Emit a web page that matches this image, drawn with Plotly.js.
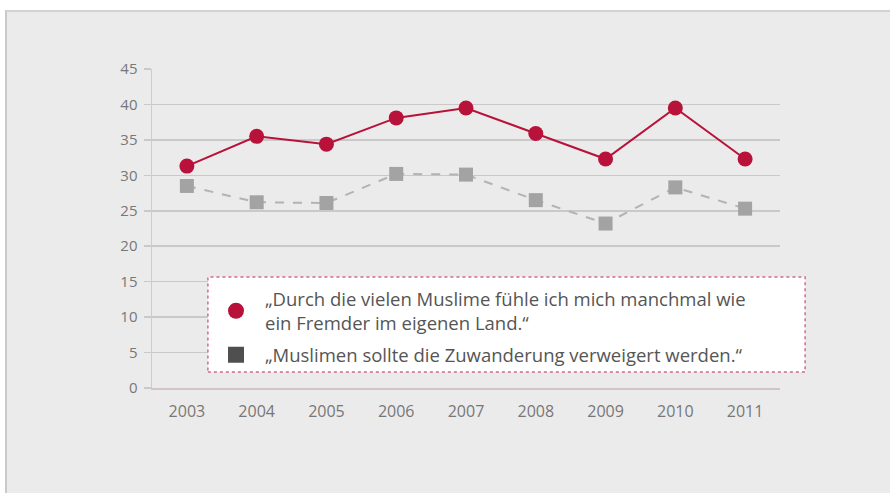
<!DOCTYPE html>
<html><head><meta charset="utf-8">
<script src="https://cdn.plot.ly/plotly-3.0.1.min.js"></script>
<style>
html,body{margin:0;padding:0;background:#fff;}
#wrap{position:absolute;left:5px;top:10px;width:883px;height:481px;border-left:2px solid #c9c9c9;border-top:2px solid #d2d2d2;background:#ebebeb;}
#chart{width:883px;height:481px;}
</style></head>
<body><div id="wrap"><div id="chart"></div></div>
<script>
const years = ['2003','2004','2005','2006','2007','2008','2009','2010','2011'];
const fremder = [31.3, 35.5, 34.4, 38.1, 39.5, 35.9, 32.3, 39.5, 32.3];
const zuwanderung = [28.5, 26.2, 26.1, 30.2, 30.1, 26.5, 23.2, 28.3, 25.3];
const name1 = '„Durch die vielen Muslime fühle ich mich manchmal wie<br>ein Fremder im eigenen Land.“';
const name2 = '„Muslimen sollte die Zuwanderung verweigert werden.“';
const yTicks = [0,5,10,15,20,25,30,35,40,45];

const red = '#b8123a';
const traces = [
  {x: years, y: zuwanderung, type:'scatter', mode:'lines+markers', showlegend:false,
   line:{color:'#b3b3b3', width:2, dash:'dash'},
   marker:{symbol:'square', size:14, color:'#a3a3a3'}},
  {x: years, y: fremder, type:'scatter', mode:'lines+markers', showlegend:false,
   line:{color:red, width:2},
   marker:{symbol:'circle', size:15, color:red}},
  {x:[null], y:[null], type:'scatter', mode:'markers', name:name1, legendgroup:'a',
   marker:{symbol:'circle', size:16, color:red}},
  {x:[null], y:[null], type:'scatter', mode:'markers', name:name2, legendgroup:'b',
   marker:{symbol:'square', size:16, color:'#4f4f4f'}}
];

const layout = {
  width:883, height:481,
  margin:{l:145, r:110, t:57, b:105},
  paper_bgcolor:'#ebebeb', plot_bgcolor:'#ebebeb',
  font:{family:'Open Sans, sans-serif', color:'#6f6f6f', size:15},
  xaxis:{type:'category', range:[-0.5, 8.5], showgrid:false, zeroline:false,
    showline:true, linecolor:'#d2c4c8', linewidth:1.5, ticks:'', ticklabelstandoff:8,
    tickfont:{size:16, color:'#777'}},
  yaxis:{range:[0,45], tickvals:yTicks, showgrid:true, gridcolor:'#c9c9c9', gridwidth:1.5,
    zeroline:false, showline:true, linecolor:'#cccccc', linewidth:1.5,
    ticks:'outside', ticklen:7, tickcolor:'#c9c9c9', tickwidth:1.5, ticklabelstandoff:3,
    tickfont:{size:15, color:'#777'}},
  showlegend:true,
  legend:{x:0.0876, y:0.338, xanchor:'left', yanchor:'top', bgcolor:'rgba(0,0,0,0)', borderwidth:0,
    itemwidth:48, font:{family:'Open Sans, sans-serif', size:18.5, color:'#555'}, tracegroupgap:5},
  shapes:[{type:'rect', xref:'paper', yref:'paper', x0:0.089, x1:1.04, y0:0.05, y1:0.348,
    fillcolor:'#ffffff', line:{color:'#d36a86', width:1.5, dash:'dot'}, layer:'above'}]
};
Plotly.newPlot('chart', traces, layout, {displayModeBar:false, staticPlot:true});
</script></body></html>
